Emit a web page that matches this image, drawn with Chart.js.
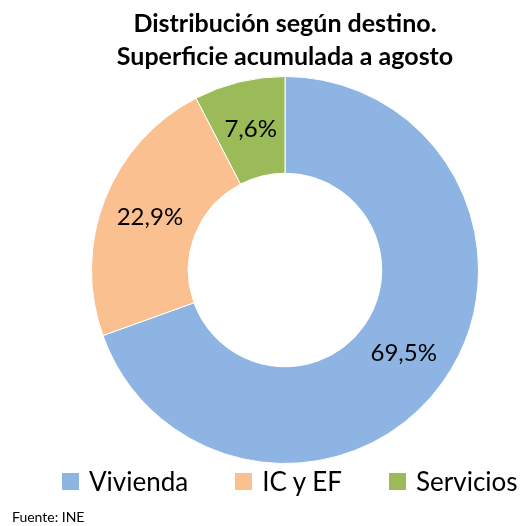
<!DOCTYPE html>
<html>
<head>
<meta charset="utf-8">
<script src="https://cdn.jsdelivr.net/npm/chart.js@4"></script>
<style>
  html, body { margin: 0; padding: 0; background: #fff; }
  #wrap { position: relative; width: 528px; height: 526px; font-family: Lato, "Open Sans", sans-serif; }
  #legend { position: absolute; left: 62px; top: 464px; display: flex; align-items: center; height: 34px; }
  #legend .item { display: flex; align-items: center; margin-right: 47px; font-size: 26px; color: #000; white-space: nowrap; }
  #legend .box { width: 17px; height: 17px; margin-right: 10px; }
  #fuente { position: absolute; left: 12px; top: 508px; font-size: 14px; color: #000; }
</style>
</head>
<body>
<div id="wrap">
  <canvas id="chart" width="528" height="526"></canvas>
  <div id="legend"></div>
  <div id="fuente">Fuente: INE</div>
</div>
<script>
const categories = ['Vivienda', 'IC y EF', 'Servicios'];
const values = [69.5, 22.9, 7.6];
const valueLabels = ['69,5%', '22,9%', '7,6%'];
const colors = ['#8DB4E3', '#FAC090', '#9BBB59'];

// etiquetas dentro de cada sector
const sliceLabels = {
  id: 'sliceLabels',
  afterDatasetsDraw(chart) {
    const ctx = chart.ctx;
    const meta = chart.getDatasetMeta(0);
    ctx.save();
    ctx.font = '24px Lato, "Open Sans", sans-serif';
    ctx.fillStyle = '#000';
    ctx.textAlign = 'center';
    ctx.textBaseline = 'middle';
    meta.data.forEach((arc, i) => {
      const p = arc.getCenterPoint();
      ctx.fillText(valueLabels[i], p.x, p.y);
    });
    ctx.restore();
  }
};

const chart = new Chart(document.getElementById('chart'), {
  type: 'doughnut',
  data: {
    labels: categories,
    datasets: [{
      data: values,
      backgroundColor: colors,
      borderColor: '#fff',
      borderWidth: 1
    }]
  },
  options: {
    responsive: false,
    animation: false,
    cutout: '50%',
    layout: { padding: { top: 0, bottom: 62, left: 42, right: 0 } },
    plugins: {
      title: {
        display: true,
        text: ['Distribución según destino.', 'Superficie acumulada a agosto'],
        color: '#000',
        font: { family: 'Lato, "Open Sans", sans-serif', size: 25, weight: 'bold', lineHeight: 1.3 },
        padding: { top: 8, bottom: 3 }
      },
      legend: { display: false },
      tooltip: { enabled: false }
    }
  },
  plugins: [sliceLabels]
});

// leyenda en HTML con los colores del gráfico
const legendEl = document.getElementById('legend');
chart.data.labels.forEach((label, i) => {
  const item = document.createElement('div');
  item.className = 'item';
  const box = document.createElement('span');
  box.className = 'box';
  box.style.background = chart.data.datasets[0].backgroundColor[i];
  item.appendChild(box);
  item.appendChild(document.createTextNode(label));
  legendEl.appendChild(item);
});
</script>
</body>
</html>
